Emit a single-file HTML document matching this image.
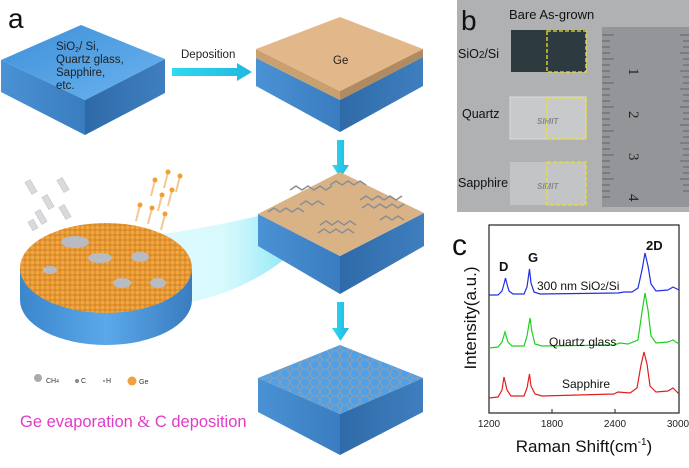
<!DOCTYPE html>
<html><head><meta charset="utf-8"><style>
html,body{margin:0;padding:0;background:#fff}
svg{display:block;font-family:"Liberation Sans",Arial,sans-serif}
</style></head><body>
<svg width="689" height="468" viewBox="0 0 689 468" xmlns="http://www.w3.org/2000/svg">
<defs>
<linearGradient id="top" x1="0" y1="0" x2="1" y2="1"><stop offset="0" stop-color="#3f8fd8"/><stop offset="1" stop-color="#6ab4f0"/></linearGradient>
<linearGradient id="sideL" x1="0" y1="0" x2="1" y2="0"><stop offset="0" stop-color="#4a92d4"/><stop offset="1" stop-color="#3a7cc0"/></linearGradient>
<linearGradient id="sideR" x1="0" y1="0" x2="1" y2="0"><stop offset="0" stop-color="#2f6aa8"/><stop offset="1" stop-color="#3f7fbf"/></linearGradient>
<linearGradient id="cy" x1="0" y1="0" x2="1" y2="0"><stop offset="0" stop-color="#30d8f0"/><stop offset="1" stop-color="#20b8e0"/></linearGradient>
<linearGradient id="beam" x1="0" y1="0" x2="1" y2="0"><stop offset="0" stop-color="#6fe8f8" stop-opacity="0.15"/><stop offset="0.6" stop-color="#8ff0fa" stop-opacity="0.35"/><stop offset="1" stop-color="#20c8e8" stop-opacity="0.8"/></linearGradient>
<linearGradient id="disk" x1="0" y1="0" x2="1" y2="0"><stop offset="0" stop-color="#3c86cc"/><stop offset="0.5" stop-color="#5aa8ea"/><stop offset="1" stop-color="#3a7cc0"/></linearGradient>
<pattern id="hex" width="10" height="9" patternUnits="userSpaceOnUse"><path d="M0 4.5 L2.5 0 L7.5 0 L10 4.5 L7.5 9 L2.5 9 Z" fill="none" stroke="#9a9ea4" stroke-width="1"/></pattern>
<pattern id="ge" width="5" height="5" patternUnits="userSpaceOnUse"><rect width="5" height="5" fill="#d88a2a"/><circle cx="2.5" cy="2.5" r="2" fill="#f2a640"/></pattern>
</defs>

<text x="8" y="28" font-size="28" fill="#111">a</text>

<polygon points="1,60 85,100 85,135 1,92" fill="url(#sideL)"/>
<polygon points="85,100 165,59 165,93 85,135" fill="url(#sideR)"/>
<polygon points="1,60 81,25 165,59 85,100" fill="url(#top)"/>
<text font-size="11.5" fill="#222"><tspan x="56" y="50">SiO<tspan font-size="7" dy="2">2</tspan><tspan dy="-2">/ Si,</tspan></tspan><tspan x="56" y="63">Quartz glass,</tspan><tspan x="56" y="76">Sapphire,</tspan><tspan x="56" y="89">etc.</tspan></text>

<text x="181" y="58" font-size="11.5" fill="#222">Deposition</text>
<polygon points="172,68 237,68 237,63 252,72 237,81 237,76 172,76" fill="url(#cy)"/>

<polygon points="256,58 340,100 340,132 256,86" fill="url(#sideL)"/>
<polygon points="340,100 423,57 423,86 340,132" fill="url(#sideR)"/>
<polygon points="256,49 340,91 340,100 256,58" fill="#c9a070"/>
<polygon points="340,91 423,49 423,57 340,100" fill="#b08a60"/>
<polygon points="256,49 340,17 423,49 340,91" fill="#e2b88a"/>
<text x="333" y="64" font-size="11.5" fill="#222">Ge</text>

<polygon points="337,140 344,140 344,165 349,165 340.5,178 332,165 337,165" fill="url(#cy)"/>

<path d="M150,236 Q230,225 300,205 L330,212 Q280,280 200,300 Q120,320 60,300 Q140,290 180,260 Z" fill="url(#beam)"/>

<polygon points="258,214 340,256 340,294 258,246" fill="url(#sideL)"/>
<polygon points="340,256 424,213 424,246 340,294" fill="url(#sideR)"/>
<polygon points="258,214 340,172 424,213 340,256" fill="#d9b386"/>
<g fill="none" stroke="#8a8e94" stroke-width="1.5">
<path d="M268,212 l6,-4 6,4 6,-4 6,4 6,-4 6,4"/>
<path d="M290,190 l6,-4 6,4 6,-4 6,4 6,-4 6,4 6,-4"/>
<path d="M330,185 l6,-4 6,4 6,-4 6,4 6,-4 6,4"/>
<path d="M360,200 l6,-4 6,4 6,-4 6,4 6,-4 6,4 6,-4"/>
<path d="M362,208 l6,-4 6,4 6,-4 6,4 6,-4 6,4 6,-4"/>
<path d="M320,225 l6,-4 6,4 6,-4 6,4 6,-4 6,4"/>
<path d="M318,233 l6,-4 6,4 6,-4 6,4 6,-4 6,4"/>
<path d="M380,220 l6,-4 6,4 6,-4 6,4"/>
<path d="M300,205 l6,-4 6,4 6,-4 6,4"/>
</g>

<polygon points="337,302 344,302 344,328 349,328 340.5,341 332,328 337,328" fill="url(#cy)"/>

<polygon points="258,378 340,414 340,455 258,412" fill="url(#sideL)"/>
<polygon points="340,414 423,378 423,412 340,455" fill="url(#sideR)"/>
<polygon points="258,378 340,345 423,378 340,414" fill="#4fa0e6"/>
<polygon points="258,378 340,345 423,378 340,414" fill="url(#hex)" opacity="0.9"/>

<path d="M20,268 L20,300 A86,45 0 0 0 192,300 L192,268 Z" fill="url(#disk)"/>
<ellipse cx="106" cy="268" rx="86" ry="45" fill="url(#ge)"/>
<g fill="#b8bcc2"><ellipse cx="75" cy="242" rx="14" ry="6"/><ellipse cx="100" cy="258" rx="12" ry="5"/><ellipse cx="140" cy="257" rx="9" ry="5"/><ellipse cx="122" cy="283" rx="9" ry="5"/><ellipse cx="158" cy="283" rx="8" ry="5"/><ellipse cx="50" cy="270" rx="7" ry="4"/></g>
<g fill="#d8dadd" stroke="#bbb" stroke-width="0.5">
<rect x="28" y="180" width="6" height="14" transform="rotate(-30 31 187)"/><rect x="45" y="195" width="6" height="14" transform="rotate(-30 48 202)"/><rect x="60" y="178" width="6" height="14" transform="rotate(-30 63 185)"/><rect x="38" y="210" width="6" height="14" transform="rotate(-30 41 217)"/><rect x="62" y="205" width="6" height="14" transform="rotate(-30 65 212)"/><rect x="30" y="220" width="6" height="10" transform="rotate(-30 33 225)"/>
</g>
<g stroke="#f5c890" stroke-width="2"><line x1="168" y1="172" x2="164" y2="188"/><line x1="180" y1="176" x2="176" y2="192"/><line x1="155" y1="180" x2="151" y2="196"/><line x1="162" y1="195" x2="158" y2="211"/><line x1="172" y1="190" x2="168" y2="206"/><line x1="140" y1="205" x2="136" y2="221"/><line x1="152" y1="208" x2="148" y2="224"/><line x1="165" y1="214" x2="161" y2="230"/></g>
<g fill="#f0a030"><circle cx="168" cy="172" r="2.5"/><circle cx="180" cy="176" r="2.5"/><circle cx="155" cy="180" r="2.5"/><circle cx="162" cy="195" r="2.5"/><circle cx="172" cy="190" r="2.5"/><circle cx="140" cy="205" r="2.5"/><circle cx="152" cy="208" r="2.5"/><circle cx="165" cy="214" r="2.5"/></g>

<circle cx="38" cy="378" r="4" fill="#aaa"/><text x="46" y="383" font-size="7" fill="#333">CH<tspan font-size="5">4</tspan></text>
<circle cx="77" cy="381" r="2" fill="#888"/><text x="81" y="383" font-size="7" fill="#333">C</text>
<circle cx="104" cy="381" r="1" fill="#888"/><text x="106" y="383" font-size="7" fill="#333">H</text>
<circle cx="132" cy="381" r="4.5" fill="#f0a040"/><text x="139" y="384" font-size="7" fill="#333">Ge</text>
<text x="20" y="427" font-size="16.5" fill="#e03cc8">Ge evaporation <tspan font-family="Liberation Serif,serif">&amp;</tspan> C deposition</text>

<rect x="457" y="0" width="232" height="212" fill="#b0b1b3"/>
<text x="461" y="30" font-size="28" fill="#111">b</text>
<text x="509" y="19" font-size="13" fill="#111">Bare  As-grown</text>
<rect x="602" y="27" width="87" height="180" fill="#939598"/>
<g stroke="#333" stroke-width="0.6">
<path d="M602,35 h12 M602,41 h8 M602,47 h8 M602,53 h8 M602,59 h12 M602,65 h8 M602,71 h8 M602,77 h8 M602,83 h12 M602,89 h8 M602,95 h8 M602,101 h8 M602,107 h12 M602,113 h8 M602,119 h8 M602,125 h8 M602,131 h12 M602,137 h8 M602,143 h8 M602,149 h8 M602,155 h12 M602,161 h8 M602,167 h8 M602,173 h8 M602,179 h12 M602,185 h8 M602,191 h8 M602,197 h8"/>
<path d="M680,35 h9 M683,41 h6 M683,47 h6 M680,53 h9 M683,59 h6 M683,65 h6 M680,71 h9 M683,77 h6 M683,83 h6 M680,89 h9 M683,95 h6 M683,101 h6 M680,107 h9 M683,113 h6 M683,119 h6 M680,125 h9 M683,131 h6 M683,137 h6 M680,143 h9 M683,149 h6 M683,155 h6 M680,161 h9 M683,167 h6 M683,173 h6 M680,179 h9 M683,185 h6 M683,191 h6"/>
</g>
<g font-size="15" fill="#222" font-family="Liberation Serif,serif"><text x="630" y="77" transform="rotate(90 634 72)">1</text><text x="630" y="120" transform="rotate(90 634 115)">2</text><text x="630" y="162" transform="rotate(90 634 157)">3</text><text x="630" y="203" transform="rotate(90 634 198)">4</text></g>
<rect x="511" y="30" width="75" height="42" fill="#2d3b40"/>
<rect x="510" y="97" width="76" height="42" fill="#c8c9cb" stroke="#ddd"/>
<rect x="510" y="162" width="76" height="43" fill="#c3c4c6"/>
<text x="537" y="124" font-size="8" fill="#888" font-style="italic" font-weight="bold">SIMIT</text>
<text x="537" y="189" font-size="8" fill="#888" font-style="italic" font-weight="bold">SIMIT</text>
<g fill="none" stroke="#f0e020" stroke-width="1.3" stroke-dasharray="4,2"><rect x="547" y="31" width="39" height="41"/><rect x="547" y="98" width="39" height="41"/><rect x="547" y="162" width="39" height="43"/></g>
<text x="458" y="58" font-size="12.5" fill="#111">SiO<tspan font-size="10">2</tspan>/Si</text>
<text x="462" y="118" font-size="12.5" fill="#111">Quartz</text>
<text x="458" y="187" font-size="12.5" fill="#111">Sapphire</text>

<text x="452" y="255" font-size="30" fill="#111">c</text>
<rect x="489" y="225" width="190" height="188" fill="none" stroke="#222" stroke-width="1.2"/>
<g stroke="#222" stroke-width="1"><line x1="552" y1="413" x2="552" y2="409"/><line x1="615" y1="413" x2="615" y2="409"/></g>
<g font-size="10" fill="#222" text-anchor="middle"><text x="489" y="427">1200</text><text x="552" y="427">1800</text><text x="615" y="427">2400</text><text x="678" y="427">3000</text></g>
<text x="584" y="452" font-size="17" fill="#111" text-anchor="middle">Raman Shift(cm<tspan font-size="10" dy="-7">-1</tspan><tspan dy="7">)</tspan></text>
<text transform="translate(476,318) rotate(-90)" font-size="17" fill="#111" text-anchor="middle">Intensity(a.u.)</text>
<g fill="none" stroke-width="1.2">
<path stroke="#2030e0" d="M489,295 L498,295 L502,291 L504,284 L505.5,278 L507,284 L509,291 L513,294 L524,294 L527,287 L529.5,269 L531,283 L534,292 L540,294 L618,293 L624,292 L632,292 L638,288 L642,270 L645,253 L648,266 L651,284 L656,291 L668,290 L673,287 L679,290"/>
<path stroke="#20d020" d="M489,348 L498,347 L502,342 L505,332 L508,342 L512,346 L524,346 L527,336 L530,318 L532,332 L535,344 L542,346 L614,345 L620,343 L628,344 L638,340 L642,312 L645,293 L648,310 L651,336 L656,343 L668,342 L673,340 L679,344"/>
<path stroke="#e02020" d="M489,398 L498,397 L502,390 L504,377 L507,390 L511,396 L524,396 L527,388 L529.5,374 L531,386 L535,394 L542,396 L614,394 L618,392 L630,393 L637,388 L641,365 L644,352 L647,364 L650,386 L656,392 L668,391 L673,388 L679,394"/>
</g>
<g font-size="13" fill="#111" font-weight="bold"><text x="499" y="271">D</text><text x="528" y="262">G</text><text x="646" y="250">2D</text></g>
<text x="537" y="290" font-size="12" fill="#111">300 nm SiO<tspan font-size="9">2</tspan>/Si</text>
<text x="549" y="346" font-size="12" fill="#111">Quartz glass</text>
<text x="562" y="388" font-size="12" fill="#111">Sapphire</text>
</svg>
</body></html>
